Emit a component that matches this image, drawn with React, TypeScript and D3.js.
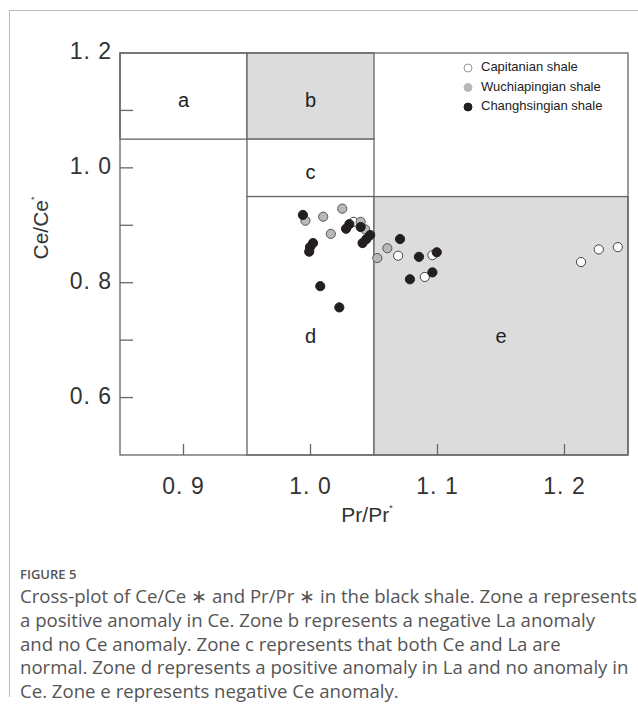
import React from 'react';
import * as d3 from 'd3';

// Pr/Pr* (x) and Ce/Ce* (y) per shale unit
const capitanianX = [1.034, 1.069, 1.096, 1.09, 1.213, 1.227, 1.242];
const capitanianY = [0.906, 0.847, 0.848, 0.81, 0.836, 0.858, 0.862];

const wuchiapingianX = [0.996, 1.01, 1.025, 1.0395, 1.043, 1.016, 1.0605, 1.0526];
const wuchiapingianY = [0.908, 0.915, 0.929, 0.906, 0.893, 0.885, 0.86, 0.843];

const changhsingianX = [0.994, 1.0306, 1.028, 1.0395, 1.047, 1.044, 1.041, 1.002, 0.9996, 0.999, 1.0077, 1.0227, 1.0705, 1.0854, 1.0994, 1.096, 1.0783];
const changhsingianY = [0.918, 0.902, 0.894, 0.897, 0.883, 0.876, 0.869, 0.869, 0.862, 0.854, 0.794, 0.757, 0.876, 0.845, 0.853, 0.818, 0.806];

const seriesNames = ['Capitanian shale', 'Wuchiapingian shale', 'Changhsingian shale'];

const xTicks = [0.9, 1.0, 1.1, 1.2];
const xTickLabels = ['0. 9', '1. 0', '1. 1', '1. 2'];
const yTicks = [1.1, 1.0, 0.9, 0.8, 0.7, 0.6];
const yLabelValues = [1.2, 1.0, 0.8, 0.6];
const yTickLabels = ['1. 2', '1. 0', '0. 8', '0. 6'];

// zones: [x0, x1, y0, y1, label, shaded]
const zones: [number, number, number, number, string, boolean][] = [
  [0.85, 0.95, 1.05, 1.2, 'a', false],
  [0.95, 1.05, 1.05, 1.2, 'b', true],
  [0.95, 1.05, 0.95, 1.05, 'c', false],
  [0.95, 1.05, 0.5, 0.95, 'd', false],
  [1.05, 1.25, 0.5, 0.95, 'e', true],
];
const zoneLabelY = { a: 1.115, b: 1.115, c: 0.99, d: 0.705, e: 0.705 };

const caption = [
  'Cross-plot of Ce/Ce \u2217 and Pr/Pr \u2217 in the black shale. Zone a represents',
  'a positive anomaly in Ce. Zone b represents a negative La anomaly',
  'and no Ce anomaly. Zone c represents that both Ce and La are',
  'normal. Zone d represents a positive anomaly in La and no anomaly in',
  'Ce. Zone e represents negative Ce anomaly.',
];

const W = 638, H = 704;
const m = { l: 120, r: 628, t: 53, b: 455 };
const axisColor = '#666';
const shade = '#dcdcdc';
const font = 'Liberation Sans, Arial, sans-serif';

const App = () => {
  const x = d3.scaleLinear().domain([0.85, 1.25]).range([m.l, m.r]);
  const y = d3.scaleLinear().domain([0.5, 1.2]).range([m.b, m.t]);

  const series = [
    { name: seriesNames[0], xs: capitanianX, ys: capitanianY, fill: '#fff', stroke: '#444', key: '#999' },
    { name: seriesNames[1], xs: wuchiapingianX, ys: wuchiapingianY, fill: '#b5b9b9', stroke: '#555', key: '#b5b9b9' },
    { name: seriesNames[2], xs: changhsingianX, ys: changhsingianY, fill: '#231f20', stroke: '#231f20', key: '#231f20' },
  ];

  return (
    <svg width={W} height={H} style={{ position: 'absolute', left: 0, top: 0 }}>
      <rect width={W} height={H} fill="#fff" />
      {/* page frame */}
      <line x1={9} y1={10.5} x2={W} y2={10.5} stroke="#bbb" />
      <line x1={9.5} y1={10} x2={9.5} y2={697} stroke="#bbb" />

      <rect x={m.l} y={m.t} width={m.r - m.l} height={m.b - m.t} fill="#fff" />
      {zones.map(([x0, x1, y0, y1, , shaded], i) => (
        <rect key={i} x={x(x0)} y={y(y1)} width={x(x1) - x(x0)} height={y(y0) - y(y1)}
          fill={shaded ? shade : '#fff'} stroke={axisColor} strokeWidth={1.3} />
      ))}
      <rect x={m.l} y={m.t} width={m.r - m.l} height={m.b - m.t} fill="none" stroke={axisColor} strokeWidth={1.3} />
      {zones.map(([x0, x1, , , label]) => (
        <text key={label} x={(x(x0) + x(x1)) / 2} y={y(zoneLabelY[label])} textAnchor="middle"
          dominantBaseline="middle" fontFamily={font} fontSize={20} fill="#222">{label}</text>
      ))}

      {/* ticks inside frame */}
      {yTicks.map(t => (
        <line key={t} x1={m.l} x2={m.l + 13} y1={y(t)} y2={y(t)} stroke={axisColor} strokeWidth={1.3} />
      ))}
      {xTicks.map(t => (
        <line key={t} x1={x(t)} x2={x(t)} y1={m.b} y2={m.b - 11} stroke={axisColor} strokeWidth={1.3} />
      ))}
      {yLabelValues.map((t, i) => (
        <text key={t} x={112} y={y(t)} textAnchor="end" dominantBaseline="middle" letterSpacing={1}
          fontFamily={font} fontSize={23} fill="#333">{yTickLabels[i]}</text>
      ))}
      {xTicks.map((t, i) => (
        <text key={t} x={x(t)} y={488} textAnchor="middle" dominantBaseline="middle" letterSpacing={1}
          fontFamily={font} fontSize={23} fill="#333">{xTickLabels[i]}</text>
      ))}

      <text x={367} y={522} textAnchor="middle" fontFamily={font} fontSize={21} fill="#333">
        Pr/Pr<tspan dy={-11} fontSize={9}>*</tspan>
      </text>
      <text transform={`translate(48, ${228}) rotate(-90)`} textAnchor="middle" fontFamily={font} fontSize={21} fill="#333">
        Ce/Ce<tspan dy={-11} fontSize={9}>*</tspan>
      </text>

      {series.map(s => (
        <g key={s.name}>
          {s.xs.map((v, i) => (
            <circle key={i} cx={x(v)} cy={y(s.ys[i])} r={4.6} fill={s.fill} stroke={s.stroke} strokeWidth={1} />
          ))}
        </g>
      ))}

      {/* legend */}
      {series.map((s, i) => (
        <g key={s.name} transform={`translate(468, ${68 + i * 19.5})`}>
          <circle r={4} fill={s.fill} stroke={s.key} />
          <text x={13} dominantBaseline="middle" fontFamily={font} fontSize={13} fill="#222">{s.name}</text>
        </g>
      ))}

      {/* caption */}
      <text x={20} y={579} fontFamily="Open Sans, sans-serif" fontSize={13} fontWeight={600} fill="#555">FIGURE 5</text>
      {caption.map((line, i) => (
        <text key={i} x={20} y={603 + i * 23.8} fontFamily="Open Sans, sans-serif" fontSize={18.6} fill="#555">{line}</text>
      ))}
    </svg>
  );
};

export default App;
